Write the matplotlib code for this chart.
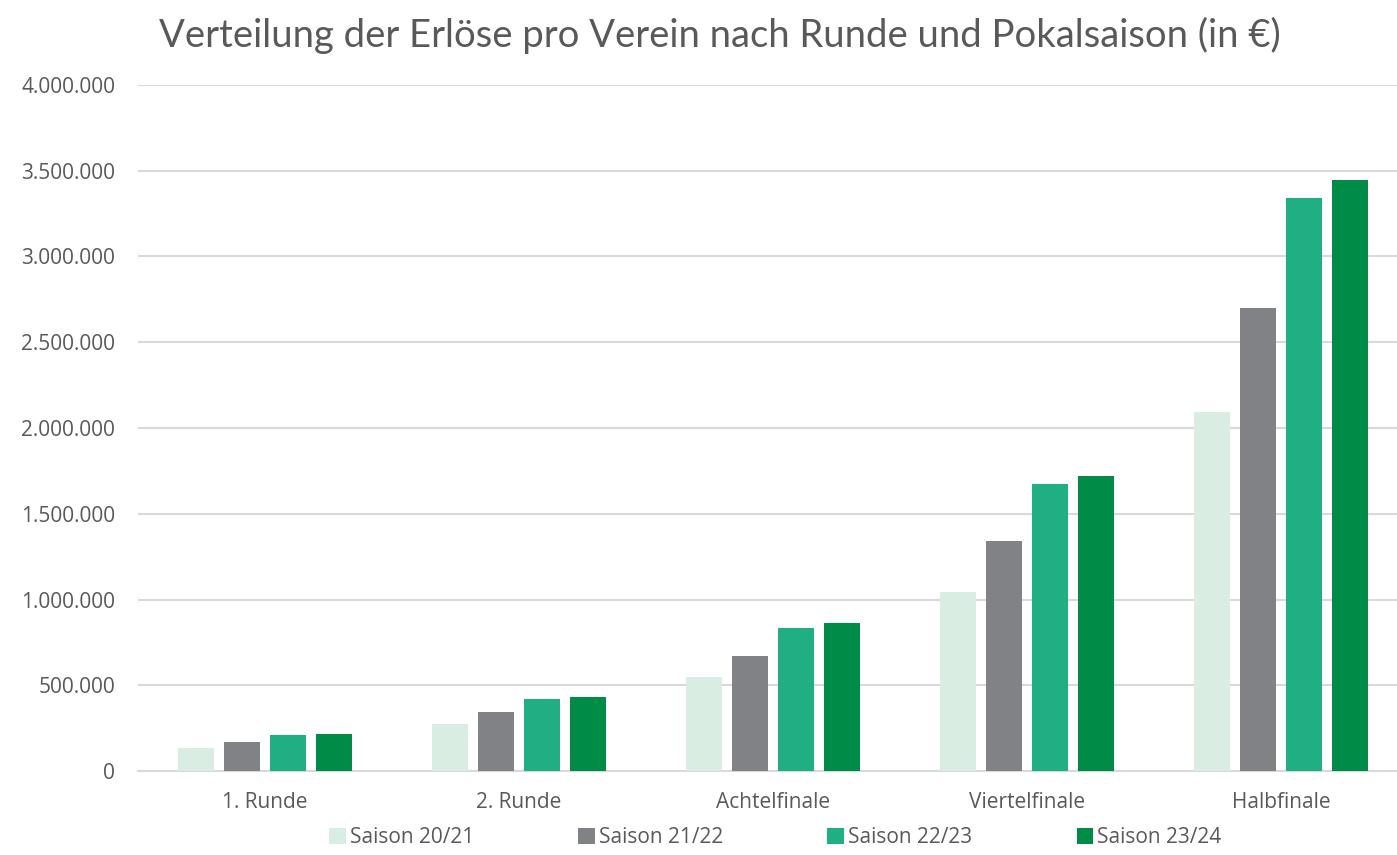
import numpy as np
import matplotlib.pyplot as plt
from matplotlib.ticker import FuncFormatter

# Data
runden = ["1. Runde", "2. Runde", "Achtelfinale", "Viertelfinale", "Halbfinale"]
saison_20_21 = [137000, 274000, 548000, 1046000, 2092000]
saison_21_22 = [168000, 344000, 672000, 1342000, 2700000]
saison_22_23 = [209000, 418000, 836000, 1672000, 3344000]
saison_23_24 = [215000, 431000, 861000, 1722000, 3445000]

labels = ["Saison 20/21", "Saison 21/22", "Saison 22/23", "Saison 23/24"]
colors = ["#D9EDE3", "#818285", "#20AF82", "#008C46"]
series = [saison_20_21, saison_21_22, saison_22_23, saison_23_24]

plt.rcParams['font.family'] = ['Open Sans', 'DejaVu Sans']

fig = plt.figure(figsize=(13.97, 8.55), dpi=100)
ax = fig.add_axes([138 / 1397, 84 / 855, 1270 / 1397, 686 / 855])

x = np.arange(len(runden))
width = 0.142
step = 0.181
for i, (vals, lab, col) in enumerate(zip(series, labels, colors)):
    ax.bar(x + (i - 1.5) * step, vals, width, color=col, label=lab, zorder=3)

ax.set_xlim(-0.5, 4.5)
ax.set_ylim(0, 4000000)
ax.set_yticks(np.arange(0, 4000001, 500000))
ax.yaxis.set_major_formatter(FuncFormatter(lambda v, p: f"{int(v):,}".replace(",", ".")))
ax.set_xticks(x)
ax.set_xticklabels(runden)

ax.grid(axis='y', color='#D9D9D9', linewidth=1.5, zorder=0)
for s in ['top', 'right', 'left']:
    ax.spines[s].set_visible(False)
ax.spines['bottom'].set_color('#D9D9D9')
ax.spines['bottom'].set_linewidth(1.5)
ax.tick_params(axis='both', length=0, labelsize=15, labelcolor='#595959')
ax.tick_params(axis='y', pad=16.5)
ax.tick_params(axis='x', pad=15)

fig.text(0.515, 0.958, "Verteilung der Erlöse pro Verein nach Runde und Pokalsaison (in €)",
         ha='center', va='center', fontsize=27.5, color='#595959', family=['Lato', 'DejaVu Sans'])

leg = fig.legend(loc='center', bbox_to_anchor=(0.555, 0.02), ncol=4, frameon=False,
                 fontsize=15, handlelength=0.8, handleheight=0.8, handletextpad=0.2,
                 columnspacing=5.0, labelcolor='#595959')

plt.savefig("out.png", dpi=100)
